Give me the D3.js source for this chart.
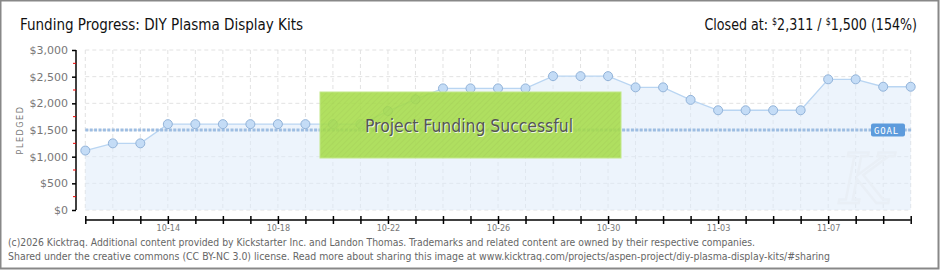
<!DOCTYPE html>
<html>
<head>
<meta charset="utf-8">
<script src="https://cdn.jsdelivr.net/npm/d3@7"></script>
<style>
  body { margin: 0; background: #fff; }
  svg text { font-family: "DejaVu Sans Condensed", "DejaVu Sans", sans-serif; }
</style>
</head>
<body>
<div id="chart"><svg></svg></div>
<script>
// data
var dates = ['10-11','10-12','10-13','10-14','10-15','10-16','10-17','10-18','10-19','10-20',
             '10-21','10-22','10-23','10-24','10-25','10-26','10-27','10-28','10-29','10-30',
             '10-31','11-01','11-02','11-03','11-04','11-05','11-06','11-07','11-08','11-09','11-10'];
var pledged = [1115,1250,1250,1610,1610,1610,1610,1610,1610,1610,
               1610,1855,2075,2280,2280,2280,2280,2510,2510,2510,
               2300,2300,2065,1870,1870,1870,1870,2450,2450,2311,2311];
var goal = 1500;
var yTicks = [0,500,1000,1500,2000,2500,3000];
var xLabels = ['10-14','10-18','10-22','10-26','10-30','11-03','11-07'];

function FundingView(svgid, width, height){
    this.svgId = svgid;
    this.svgWidth = width;
    this.svgHeight = height;
}

FundingView.prototype.init = function(){
    this.svg = d3.select(this.svgId).select('svg')
        .attr('width', this.svgWidth)
        .attr('height', this.svgHeight);

    this.x = d3.scalePoint().domain(dates).range([85.3, 910.7]);
    this.y = d3.scaleLinear().domain([0, 3000]).range([210, 50]);
};

FundingView.prototype.update = function(){
    var svg = this.svg, x = this.x, y = this.y;

    // outer frame
    svg.append('rect')
        .attr('x', 0.5).attr('y', 0.5)
        .attr('width', this.svgWidth - 2).attr('height', this.svgHeight - 2)
        .attr('fill', '#fff').attr('stroke', '#888').attr('stroke-width', 2);

    var defs = svg.append('defs');
    var pat = defs.append('pattern')
        .attr('id', 'stripes').attr('width', 4).attr('height', 4)
        .attr('patternUnits', 'userSpaceOnUse')
        .attr('patternTransform', 'rotate(45)');
    pat.append('rect').attr('width', 4).attr('height', 4).attr('fill', '#a6dc4a');
    pat.append('line').attr('x1', 0).attr('y1', 0).attr('x2', 0).attr('y2', 4)
        .attr('stroke', '#9fd146').attr('stroke-width', 1.5);

    // grid
    svg.append('g').selectAll('line.h').data(yTicks).enter()
        .append('line')
        .attr('x1', x(dates[0])).attr('x2', x(dates[dates.length - 1]))
        .attr('y1', function (d) { return y(d); }).attr('y2', function (d) { return y(d); })
        .attr('stroke', '#e2e2e2').attr('stroke-dasharray', '4,3');
    svg.append('g').selectAll('line.v').data(dates).enter()
        .append('line')
        .attr('x1', function (d) { return x(d); }).attr('x2', function (d) { return x(d); })
        .attr('y1', y(3000)).attr('y2', y(0))
        .attr('stroke', '#e2e2e2').attr('stroke-dasharray', '4,3');

    // area + line
    var area = d3.area()
        .x(function (d, i) { return x(dates[i]); })
        .y0(y(0))
        .y1(function (d) { return y(d); });
    svg.append('path').datum(pledged)
        .attr('d', area)
        .attr('fill', '#deebfa').attr('fill-opacity', 0.55);

    // watermark
    svg.append('text')
        .attr('x', 866).attr('y', 203)
        .attr('text-anchor', 'middle')
        .style('font-family', 'DejaVu Serif, serif')
        .style('font-style', 'italic')
        .style('font-size', '70px')
        .attr('fill', 'none').attr('stroke', '#e9eff6').attr('stroke-width', 2.5)
        .text('K');

    var line = d3.line()
        .x(function (d, i) { return x(dates[i]); })
        .y(function (d) { return y(d); });
    svg.append('path').datum(pledged)
        .attr('d', line)
        .attr('fill', 'none').attr('stroke', '#b9d5f2').attr('stroke-width', 1.3);

    // goal line
    svg.append('line')
        .attr('x1', x(dates[0])).attr('x2', x(dates[dates.length - 1]) + 1)
        .attr('y1', y(goal)).attr('y2', y(goal))
        .attr('stroke', '#9dbde2').attr('stroke-width', 3)
        .attr('stroke-dasharray', '3,1.4');

    // points
    svg.append('g').selectAll('circle').data(pledged).enter()
        .append('circle')
        .attr('cx', function (d, i) { return x(dates[i]); })
        .attr('cy', function (d) { return y(d); })
        .attr('r', 4.5)
        .attr('fill', '#c4dcf6').attr('stroke', '#92b3d9').attr('stroke-width', 1);

    // y axis
    var yAxis = svg.append('g')
        .attr('transform', 'translate(76,0)')
        .call(d3.axisLeft(y).tickValues(yTicks).tickSize(4)
            .tickFormat(function (d) { return '$' + d3.format(',')(d); }));
    yAxis.select('.domain').attr('stroke', '#000').attr('stroke-width', 1.5)
        .attr('d', 'M0,' + y(3000) + 'V' + y(0));
    yAxis.selectAll('.tick line').attr('stroke', '#000').attr('stroke-width', 1.5);
    yAxis.selectAll('.tick text')
        .attr('x', -8)
        .attr('fill', '#777')
        .style('font-size', '11px')
        .style('font-family', 'DejaVu Sans, sans-serif');
    svg.append('g').selectAll('line').data([250, 750, 1250, 1750, 2250, 2750]).enter()
        .append('line')
        .attr('x1', 73).attr('x2', 76)
        .attr('y1', function (d) { return y(d); }).attr('y2', function (d) { return y(d); })
        .attr('stroke', '#e00').attr('stroke-width', 1);

    svg.append('text')
        .attr('transform', 'translate(23,130) rotate(-90)')
        .attr('text-anchor', 'middle')
        .attr('fill', '#777')
        .style('font-size', '9px')
        .style('letter-spacing', '1.5px')
        .text('PLEDGED');

    // x axis
    var xAxis = svg.append('g')
        .attr('transform', 'translate(0,220)')
        .call(d3.axisBottom(x).tickSize(4)
            .tickFormat(function (d) { return xLabels.indexOf(d) >= 0 ? d : ''; }));
    xAxis.select('.domain').attr('stroke', '#000').attr('stroke-width', 1.5)
        .attr('d', 'M' + x(dates[0]) + ',0H' + x(dates[dates.length - 1]));
    xAxis.selectAll('.tick line').attr('y1', -4).attr('y2', 4)
        .attr('stroke', '#000').attr('stroke-width', 1.5);
    xAxis.selectAll('.tick text')
        .attr('y', 5)
        .attr('fill', '#777')
        .style('font-size', '9px');

    // success banner (slightly see-through, as in the reference)
    svg.append('rect')
        .attr('x', 320).attr('y', 92).attr('width', 301).attr('height', 66)
        .attr('fill', 'url(#stripes)').attr('fill-opacity', 0.88)
        .attr('stroke', '#c2e888').attr('stroke-width', 1);
    svg.append('text')
        .attr('x', 470).attr('y', 133)
        .attr('text-anchor', 'middle')
        .attr('fill', '#fff').attr('opacity', 0.8)
        .style('font-size', '17.5px')
        .attr('textLength', 208).attr('lengthAdjust', 'spacingAndGlyphs')
        .text('Project Funding Successful');
    svg.append('text')
        .attr('x', 469).attr('y', 132)
        .attr('text-anchor', 'middle')
        .attr('fill', '#555')
        .style('font-size', '17.5px')
        .attr('textLength', 208).attr('lengthAdjust', 'spacingAndGlyphs')
        .text('Project Funding Successful');

    // goal tag
    svg.append('rect')
        .attr('x', 871).attr('y', 123.5).attr('width', 34).attr('height', 13)
        .attr('rx', 2)
        .attr('fill', '#5d9bdc');
    svg.append('text')
        .attr('x', 874).attr('y', 133.5)
        .attr('fill', '#fff')
        .style('font-size', '9px')
        .style('letter-spacing', '0.8px')
        .style('font-family', 'DejaVu Sans Mono, monospace')
        .text('GOAL');

    // titles
    svg.append('text')
        .attr('x', 20).attr('y', 30)
        .attr('fill', '#111')
        .style('font-size', '16px')
        .attr('textLength', 283).attr('lengthAdjust', 'spacingAndGlyphs')
        .text('Funding Progress: DIY Plasma Display Kits');

    var t = svg.append('text')
        .attr('transform', 'translate(917,30) scale(0.88,1)')
        .attr('text-anchor', 'end')
        .attr('fill', '#111')
        .style('font-size', '16px');
    t.append('tspan').text('Closed at:  ');
    t.append('tspan').style('font-size', '10px').attr('dy', -5).text('$');
    t.append('tspan').attr('dy', 5).text('2,311 /  ');
    t.append('tspan').style('font-size', '10px').attr('dy', -5).text('$');
    t.append('tspan').attr('dy', 5).text('1,500 (154%)');

    // footer
    svg.append('text')
        .attr('x', 8).attr('y', 246)
        .attr('fill', '#666')
        .style('font-size', '10px')
        .attr('textLength', 747).attr('lengthAdjust', 'spacingAndGlyphs')
        .text('(c)2026 Kicktraq. Additional content provided by Kickstarter Inc. and Landon Thomas. Trademarks and related content are owned by their respective companies.');
    svg.append('text')
        .attr('x', 8).attr('y', 260)
        .attr('fill', '#666')
        .style('font-size', '10px')
        .attr('textLength', 822).attr('lengthAdjust', 'spacingAndGlyphs')
        .text('Shared under the creative commons (CC BY-NC 3.0) license. Read more about sharing this image at www.kicktraq.com/projects/aspen-project/diy-plasma-display-kits/#sharing');
};

var view = new FundingView('#chart', 940, 270);
view.init();
view.update();
</script>
</body>
</html>
